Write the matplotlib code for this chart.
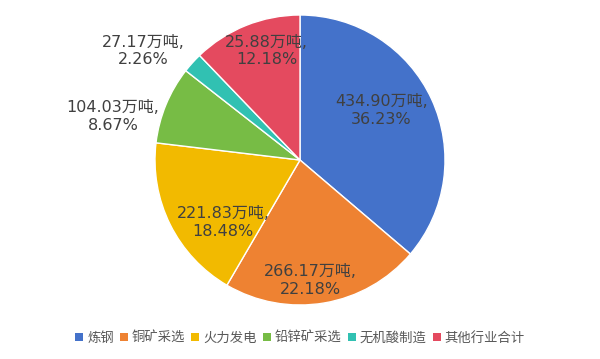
import matplotlib
matplotlib.use("Agg")
import matplotlib.pyplot as plt
from matplotlib.patches import Patch

plt.rcParams['font.family'] = ['DejaVu Sans', 'Noto Sans CJK SC']

categories = ['炼钢', '铜矿采选', '火力发电', '铅锌矿采选', '无机酸制造', '其他行业合计']
tonnage = ['434.90', '266.17', '221.83', '104.03', '27.17', '25.88']
percents = [36.23, 22.18, 18.48, 8.67, 2.26, 12.18]
colors = ['#4472CA', '#EE8232', '#F2BA00', '#77BC45', '#31C1B2', '#E44A5F']
# label anchor positions (radius-relative units)
label_pos = [(0.56, 0.34), (0.07, -0.83), (-0.53, -0.43),
             (-1.29, 0.30), (-1.08, 0.75), (-0.23, 0.75)]

fig = plt.figure(figsize=(6.0, 3.59), dpi=100)
ax = fig.add_axes([155/600, 1 - 305/359, 290/600, 290/359])
wedges, _ = ax.pie(percents, colors=colors, startangle=90, counterclock=False,
                   radius=1.0,
                   wedgeprops=dict(edgecolor='white', linewidth=1.0))
ax.set_xlim(-1, 1)
ax.set_ylim(-1, 1)
ax.set_aspect('equal')
ax.axis('off')

for (x, y), t, p in zip(label_pos, tonnage, percents):
    ax.text(x, y, f'{t}万吨,\n{p:.2f}%', ha='center', va='center',
            fontsize=11.5, color='#404040', linespacing=1.2, clip_on=False)

handles = [Patch(facecolor=c, edgecolor='none') for c in colors]
fig.legend(handles, categories, loc='center', bbox_to_anchor=(0.5, 1 - 338/359),
           ncol=6, frameon=False, fontsize=9.6, handlelength=0.6, handleheight=0.6,
           handletextpad=0.3, columnspacing=0.45, labelcolor='#595959')

fig.savefig('out.png', dpi=100)
